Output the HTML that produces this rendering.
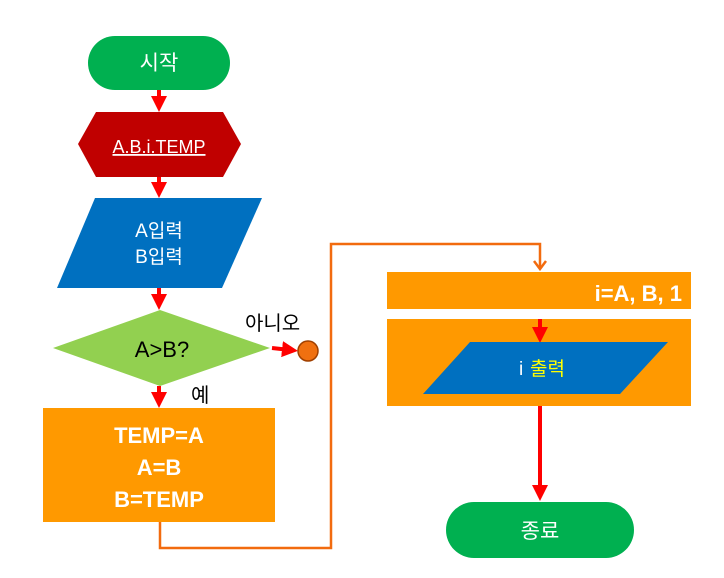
<!DOCTYPE html>
<html><head><meta charset="utf-8"><style>
body{margin:0;background:#fff;}
svg text{font-family:"Liberation Sans","Noto Sans CJK KR",sans-serif;}
</style></head><body>
<svg width="724" height="573" viewBox="0 0 724 573" xmlns="http://www.w3.org/2000/svg">
<defs>
<marker id="ar" markerWidth="4" markerHeight="4" refX="2" refY="2" orient="auto" markerUnits="strokeWidth"><path d="M0,0 L4,2 L0,4 z" fill="#ff0000"/></marker>
</defs>
<rect x="88" y="36" width="142" height="54" rx="27" fill="#00b050"/>
<text x="159" y="70" font-size="21" fill="#fff" text-anchor="middle">시작</text>
<line x1="159" y1="90" x2="159" y2="104" stroke="#f00" stroke-width="4" marker-end="url(#ar)"/>
<polygon points="78,144 96,112 223,112 241,144 223,177 96,177" fill="#c00000"/>
<text x="159" y="153" font-size="18" fill="#fff" text-anchor="middle" text-decoration="underline">A.B.i.TEMP</text>
<line x1="159" y1="177" x2="159" y2="190" stroke="#f00" stroke-width="4" marker-end="url(#ar)"/>
<polygon points="95,198 262,198 222,288 57,288" fill="#0070c0"/>
<text x="159" y="237" font-size="19" fill="#fff" text-anchor="middle">A입력</text>
<text x="159" y="263" font-size="19" fill="#fff" text-anchor="middle">B입력</text>
<line x1="159" y1="288" x2="159" y2="302" stroke="#f00" stroke-width="4" marker-end="url(#ar)"/>
<polygon points="160,310 270,348 160,386 53,348" fill="#92d050"/>
<text x="162" y="357" font-size="22" fill="#000" text-anchor="middle">A&gt;B?</text>
<text x="245" y="330" font-size="20" fill="#000">아니오</text>
<line x1="272" y1="348" x2="290" y2="350" stroke="#f00" stroke-width="4" marker-end="url(#ar)"/>
<circle cx="308" cy="351" r="10" fill="#f07010" stroke="#a04000" stroke-width="1.5"/>
<text x="191" y="402" font-size="20" fill="#000">예</text>
<line x1="159" y1="386" x2="159" y2="400" stroke="#f00" stroke-width="4" marker-end="url(#ar)"/>
<rect x="43" y="408" width="232" height="114" fill="#ff9900"/>
<text x="159" y="443" font-size="22" font-weight="bold" fill="#fff" text-anchor="middle">TEMP=A</text>
<text x="159" y="475" font-size="22" font-weight="bold" fill="#fff" text-anchor="middle">A=B</text>
<text x="159" y="507" font-size="22" font-weight="bold" fill="#fff" text-anchor="middle">B=TEMP</text>
<polyline points="160,522 160,548 331,548 331,244 540,244 540,269" fill="none" stroke="#f26b0f" stroke-width="2.5"/>
<polyline points="534,261 540,269 546,261" fill="none" stroke="#f26b0f" stroke-width="2.5"/>
<rect x="387" y="272" width="304" height="37" fill="#ff9900"/>
<text x="682" y="301" font-size="22" font-weight="bold" fill="#fff" text-anchor="end">i=A, B, 1</text>
<rect x="387" y="319" width="304" height="87" fill="#ff9900"/>
<line x1="540" y1="319" x2="540" y2="335" stroke="#f00" stroke-width="4" marker-end="url(#ar)"/>
<polygon points="470,342 668,342 620,394 423,394" fill="#0070c0"/>
<text x="519" y="375" font-size="19" fill="#fff">i</text>
<text x="530" y="375" font-size="19" fill="#ffff00">출력</text>
<line x1="540" y1="406" x2="540" y2="493" stroke="#f00" stroke-width="4" marker-end="url(#ar)"/>
<rect x="446" y="502" width="188" height="56" rx="28" fill="#00b050"/>
<text x="540" y="538" font-size="21" fill="#fff" text-anchor="middle">종료</text>
</svg>
</body></html>
